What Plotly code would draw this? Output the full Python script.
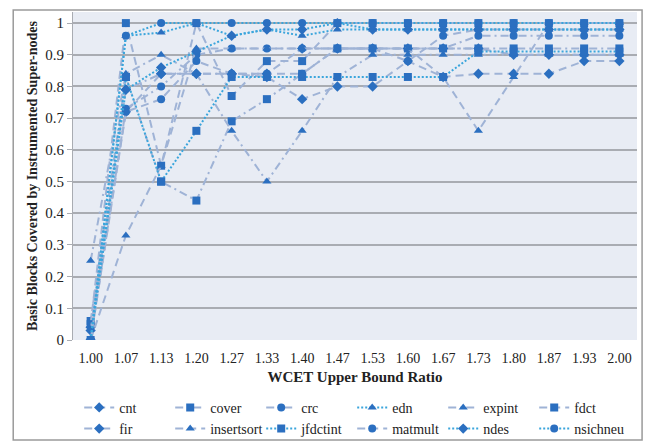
import plotly.graph_objects as go

categories = ["1.00", "1.07", "1.13", "1.20", "1.27", "1.33", "1.40", "1.47",
              "1.53", "1.60", "1.67", "1.73", "1.80", "1.87", "1.93", "2.00"]

cnt        = [0.04, 0.72, 0.84, 0.84, 0.84, 0.83, 0.76, 0.80, 0.80, 0.88, 0.83, 0.84, 0.84, 0.84, 0.88, 0.88]
cover      = [0.06, 0.83, 0.50, 0.44, 0.69, 0.76, 0.84, 0.92, 0.92, 0.92, 0.92, 0.92, 0.92, 0.92, 0.92, 0.92]
crc        = [0.00, 0.73, 0.80, 0.90, 0.92, 0.92, 0.92, 0.92, 0.92, 0.92, 0.92, 0.96, 0.96, 0.96, 0.96, 0.96]
edn        = [0.00, 0.96, 0.97, 1.00, 0.96, 0.98, 0.96, 0.98, 0.98, 0.98, 0.98, 0.98, 0.98, 0.98, 0.98, 0.98]
expint     = [0.25, 0.84, 0.90, 0.84, 0.66, 0.50, 0.66, 0.83, 0.90, 0.90, 0.90, 0.90, 0.90, 0.90, 0.90, 0.90]
fdct       = [0.05, 1.00, 0.55, 1.00, 0.77, 0.88, 0.88, 1.00, 1.00, 1.00, 1.00, 1.00, 1.00, 1.00, 1.00, 1.00]
fir        = [0.03, 0.79, 0.84, 0.84, 0.84, 0.84, 0.92, 0.92, 0.92, 0.92, 0.92, 0.92, 0.90, 0.90, 0.90, 0.90]
insertsort = [0.00, 0.33, 0.55, 0.92, 0.92, 0.92, 0.92, 0.92, 0.92, 0.92, 0.83, 0.66, 0.83, 1.00, 1.00, 1.00]
jfdctint   = [0.00, 0.83, 0.50, 0.66, 0.83, 0.83, 0.83, 0.83, 0.83, 0.83, 0.83, 0.91, 0.91, 0.91, 0.91, 0.91]
matmult    = [0.00, 0.72, 0.76, 0.88, 0.84, 0.84, 0.84, 0.92, 0.92, 0.88, 0.96, 0.98, 0.98, 0.98, 0.98, 0.98]
ndes       = [0.00, 0.79, 0.86, 0.91, 0.96, 0.98, 0.98, 1.00, 0.98, 0.98, 0.98, 0.98, 0.98, 0.98, 0.98, 0.98]
nsichneu   = [0.00, 0.96, 1.00, 1.00, 1.00, 1.00, 1.00, 1.00, 1.00, 1.00, 1.00, 1.00, 1.00, 1.00, 1.00, 1.00]

series_names = ["cnt", "cover", "crc", "edn", "expint", "fdct",
                "fir", "insertsort", "jfdctint", "matmult", "ndes", "nsichneu"]
series_values = [cnt, cover, crc, edn, expint, fdct,
                 fir, insertsort, jfdctint, matmult, ndes, nsichneu]

DASH_C = "#9fb3d6"
DOT_C = "#3aa5dc"
MK_C = "#2b6fc0"
styles = {
    "cnt": ("dash", "diamond", DASH_C),
    "cover": ("dashdot", "square", DASH_C),
    "crc": ("dashdot", "circle", DASH_C),
    "edn": ("dot", "triangle-up", DOT_C),
    "expint": ("dashdot", "triangle-up", DASH_C),
    "fdct": ("dash", "square", DASH_C),
    "fir": ("dashdot", "diamond", DASH_C),
    "insertsort": ("dash", "triangle-up", DASH_C),
    "jfdctint": ("dot", "square", DOT_C),
    "matmult": ("dash", "circle", DASH_C),
    "ndes": ("dot", "diamond", DOT_C),
    "nsichneu": ("dot", "circle", DOT_C),
}
dash_map = {"dash": "8px,5px", "dashdot": "8px,4px,2px,4px", "dot": "2px,2px"}

fig = go.Figure()
for name, vals in zip(series_names, series_values):
    dash, sym, lc = styles[name]
    fig.add_trace(go.Scatter(
        x=categories, y=vals, name=name, mode="lines+markers",
        line=dict(color=lc, width=2, dash=dash_map[dash]),
        marker=dict(symbol=sym, size=8, color=MK_C),
    ))

serif = "Liberation Serif, DejaVu Serif"
fig.update_layout(
    width=656, height=444,
    margin=dict(l=65, r=27, t=4, b=112, autoexpand=False),
    paper_bgcolor="white",
    plot_bgcolor="#e8ecf4",
    font=dict(family=serif, size=13, color="#222"),
    showlegend=True,
    legend=dict(orientation="h", x=0.011, y=-0.158, xanchor="left", yanchor="top",
                entrywidth=46, entrywidthmode="pixels",
                font=dict(family=serif, size=14, color="#222"),
                tracegroupgap=0, bgcolor="rgba(0,0,0,0)"),
    xaxis=dict(type="category", range=[-0.5, 15.5], showgrid=False,
               tickfont=dict(family=serif, size=14), ticks="",
               ticklabelstandoff=8,
               title=dict(text="<b>WCET Upper Bound Ratio</b>", font=dict(family=serif, size=15), standoff=6),
               showline=False, zeroline=False),
    yaxis=dict(range=[0, 1.035], tickvals=[0, 0.1, 0.2, 0.3, 0.4, 0.5, 0.6, 0.7, 0.8, 0.9, 1.0],
               ticktext=["0", "0.1", "0.2", "0.3", "0.4", "0.5", "0.6", "0.7", "0.8", "0.9", "1"],
               showgrid=True, gridcolor="#a9acb2", gridwidth=1.5,
               ticks="outside", ticklen=5, tickcolor="#a9acb2",
               showline=True, linecolor="#a9acb2", linewidth=1,
               zeroline=False,
               tickfont=dict(family=serif, size=15),
               title=dict(text="<b>Basic Blocks Covered by Instrumented Super-nodes</b>",
                          font=dict(family=serif, size=14), standoff=4)),
    shapes=[dict(type="rect", xref="paper", yref="paper",
                 x0=-0.106, x1=1.009, y0=-0.305, y1=1.006,
                 line=dict(color="#9a9a9a", width=1.5), fillcolor="rgba(0,0,0,0)", layer="below")],
)

fig.write_html("out.html")
